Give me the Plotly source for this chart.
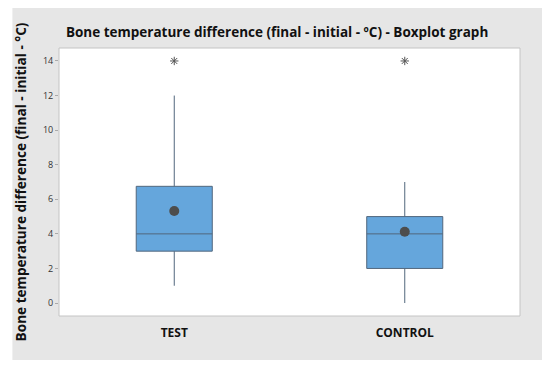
import plotly.graph_objects as go

groups = ["TEST", "CONTROL"]
q1 = [3.0, 2.0]
median = [4.0, 4.0]
q3 = [6.75, 5.0]
lower_whisker = [1.0, 0.0]
upper_whisker = [12.0, 7.0]
means = [5.32, 4.12]
outliers = [14.0, 14.0]
y_ticks = [0, 2, 4, 6, 8, 10, 12, 14]

title = "Bone temperature difference (final - initial - ºC) - Boxplot graph"
y_title = "Bone temperature difference (final - initial - °C)"

# page body has an 8px margin; figure is sized to fill the rest
OFF = 8
W, H = 550 - OFF, 365 - OFF
L, T = 55 - OFF, 48 - OFF
R = W - (520 - OFF)
B = H - (316 - OFF)
pw, ph = W - L - R, H - T - B

fig = go.Figure()
fig.add_trace(go.Box(
    x=groups, q1=q1, median=median, q3=q3,
    lowerfence=lower_whisker, upperfence=upper_whisker,
    fillcolor="#65a6dc", line=dict(color="#52677d", width=1),
    whiskerwidth=0, width=0.33, boxpoints=False, showlegend=False,
    hoverinfo="skip",
))
fig.add_trace(go.Scatter(
    x=groups, y=means, mode="markers",
    marker=dict(color="#4d4d4d", size=10, symbol="circle"),
    showlegend=False, hoverinfo="skip",
))
fig.add_trace(go.Scatter(
    x=groups, y=outliers, mode="markers",
    marker=dict(color="#555555", size=7, symbol="asterisk-open", line=dict(width=1, color="#555555")),
    showlegend=False, hoverinfo="skip",
))

# gray frame background
fig.add_shape(type="rect", xref="paper", yref="paper", layer="below",
              x0=(0 - L) / pw, x1=(545 - OFF - L) / pw,
              y0=(H - B - (360 - OFF)) / ph, y1=(H - B) / ph + 0.05,
              fillcolor="#e6e6e6", line=dict(width=0))
fig.add_shape(type="rect", xref="paper", yref="paper", layer="below",
              x0=0, x1=1, y0=0, y1=1,
              fillcolor="white", line=dict(color="#c4c4c4", width=1))

fig.update_layout(
    width=W, height=H,
    margin=dict(l=L, r=R, t=T, b=B),
    paper_bgcolor="white", plot_bgcolor="white",
    font=dict(family="Open Sans", color="#222222"),
    title=dict(text=f"<b>{title}</b>", x=(275 - OFF - L) / pw, xref="paper", xanchor="center",
               y=1 - (32 - OFF) / H, yanchor="middle", font=dict(size=13.5, color="#111111")),
)
fig.update_xaxes(
    range=[-0.5, 1.5], showgrid=False, zeroline=False,
    tickfont=dict(size=12, color="#111111"),
    tickvals=[0, 1], ticktext=[f"<b>{g}</b>" for g in groups],
    ticks="", ticklabelstandoff=8,
)
fig.update_yaxes(
    range=[-0.75, 14.75], showgrid=False, zeroline=False,
    tickvals=y_ticks, tickfont=dict(size=9, color="#333333"),
    ticks="outside", ticklen=3, tickcolor="#aaaaaa",
    title=dict(text=f"<b>{y_title}</b>", font=dict(size=13.6, color="#111111"), standoff=13),
)

fig.write_html("out.html")
